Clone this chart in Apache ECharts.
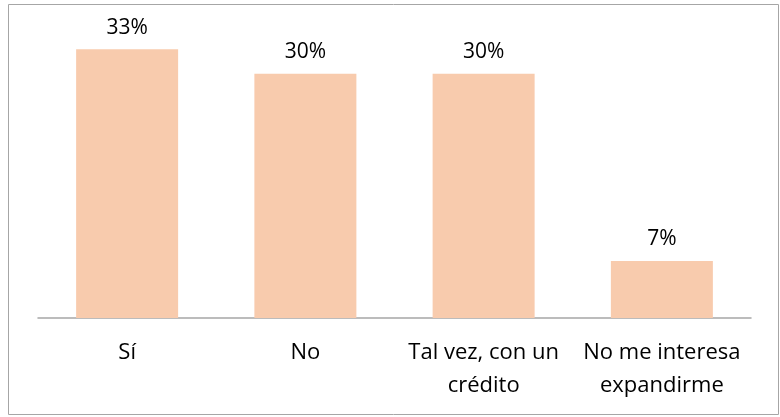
<!DOCTYPE html>
<html>
<head>
<meta charset="utf-8">
<script src="https://cdn.jsdelivr.net/npm/echarts@6/dist/echarts.min.js"></script>
<style>
  html, body { margin: 0; padding: 0; background: #fff; }
  #chart { width: 780px; height: 417px; }
</style>
</head>
<body>
<div id="chart"></div>
<script>
// Survey answers and their shares (percent)
const categories = ['Sí', 'No', 'Tal vez, con un\ncrédito', 'No me interesa\nexpandirme'];
const shares = [33, 30, 30, 7];

const FONT = '"Open Sans", "Noto Sans", sans-serif';

const chart = echarts.init(document.getElementById('chart'), null, { renderer: 'canvas' });

chart.setOption({
  animation: false,
  graphic: [{
    type: 'rect',
    shape: { x: 8.5, y: 4.5, width: 770, height: 410 },
    style: { fill: 'none', stroke: '#a6a6a6', lineWidth: 1 },
    silent: true
  }],
  grid: { left: 38, right: 29, top: 33, bottom: 99 },
  xAxis: {
    type: 'category',
    data: categories,
    axisLine: { lineStyle: { color: '#a6a6a6', width: 1.5 } },
    axisTick: { show: false },
    axisLabel: {
      color: '#000',
      fontFamily: FONT,
      fontSize: 22,
      lineHeight: 33,
      margin: 18,
      interval: 0
    }
  },
  yAxis: {
    type: 'value',
    min: 0,
    max: 35,
    show: false,
    splitLine: { show: false }
  },
  series: [{
    type: 'bar',
    data: shares,
    barWidth: 102,
    itemStyle: { color: '#f8cbad' },
    label: {
      show: true,
      position: 'top',
      distance: 11,
      formatter: '{c}%',
      color: '#000',
      fontFamily: FONT,
      fontSize: 21
    }
  }]
});
</script>
</body>
</html>
